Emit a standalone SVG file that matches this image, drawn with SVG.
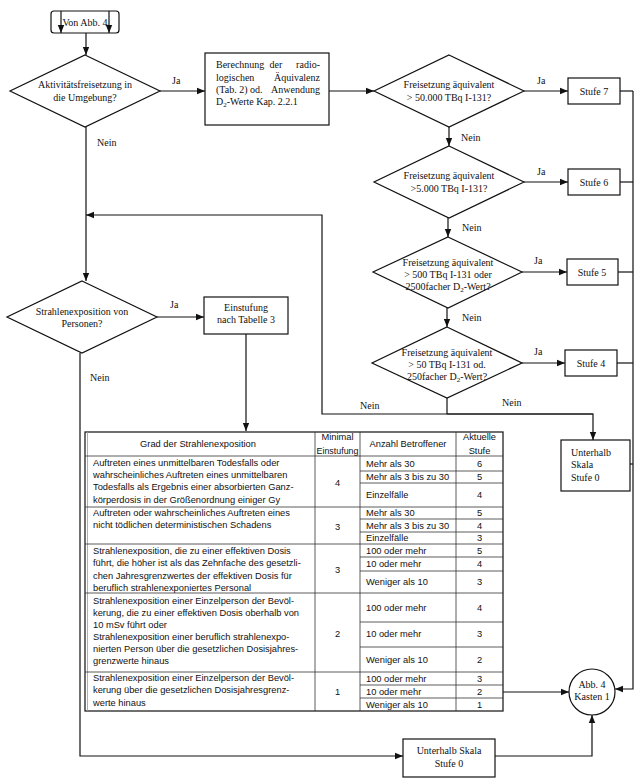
<svg xmlns="http://www.w3.org/2000/svg" width="636" height="782" viewBox="0 0 636 782">
<style>
.s{fill:#fff;stroke:#111;stroke-width:1.2}
.c{fill:none;stroke:#111;stroke-width:1.2}
.t{font-family:"Liberation Serif","Times New Roman",serif;font-size:10px;fill:#111}
.m{text-anchor:middle}
.tb{font-family:"Liberation Sans",Arial,sans-serif;font-size:9.3px;fill:#111}
.gl{stroke:#333;stroke-width:0.8;fill:none}
.sub{font-size:7px}
</style>
<defs>
<marker id="a" markerUnits="userSpaceOnUse" markerWidth="8" markerHeight="8" viewBox="0 0 8 8" refX="8" refY="4" orient="auto">
<path d="M0,0.8 L8,4 L0,7.2 Z" fill="#111"/>
</marker>
</defs>
<rect width="636" height="782" fill="#fff"/>

<g id="connectors">
<line class="c" x1="61" y1="11" x2="61" y2="33" marker-end="url(#a)"/>
<line class="c" x1="109" y1="11" x2="109" y2="33" marker-end="url(#a)"/>
<line class="c" x1="86" y1="33" x2="86" y2="55" marker-end="url(#a)"/>
<line class="c" x1="160" y1="91" x2="205" y2="91" marker-end="url(#a)"/>
<line class="c" x1="329" y1="91" x2="374" y2="91" marker-end="url(#a)"/>
<line class="c" x1="524" y1="91" x2="568" y2="91" marker-end="url(#a)"/>
<line class="c" x1="449" y1="127" x2="449" y2="146" marker-end="url(#a)"/>
<line class="c" x1="524" y1="182" x2="568" y2="182" marker-end="url(#a)"/>
<line class="c" x1="448" y1="218" x2="448" y2="237" marker-end="url(#a)"/>
<line class="c" x1="522" y1="272" x2="567" y2="272" marker-end="url(#a)"/>
<line class="c" x1="447" y1="308" x2="447" y2="327" marker-end="url(#a)"/>
<line class="c" x1="522" y1="363" x2="565" y2="363" marker-end="url(#a)"/>
<line class="c" x1="447" y1="398" x2="447" y2="414"/>
<polyline class="c" points="593,414 322,414 322,215 86,215" marker-end="url(#a)"/>
<polyline class="c" points="447,414 593,414 593,440" marker-end="url(#a)"/>
<line class="c" x1="620" y1="91" x2="633" y2="91"/>
<line class="c" x1="620" y1="182" x2="633" y2="182"/>
<line class="c" x1="618" y1="272" x2="633" y2="272"/>
<line class="c" x1="617" y1="363" x2="633" y2="363"/>
<line class="c" x1="630" y1="464" x2="633" y2="464"/>
<polyline class="c" points="633,91 633,689 615,689" marker-end="url(#a)"/>
<line class="c" x1="86" y1="127" x2="86" y2="281" marker-end="url(#a)"/>
<line class="c" x1="157" y1="317" x2="204" y2="317" marker-end="url(#a)"/>
<line class="c" x1="246" y1="334" x2="246" y2="431" marker-end="url(#a)"/>
<polyline class="c" points="80,353 80,756 403,756" marker-end="url(#a)"/>
<polyline class="c" points="495,756 592,756 592,715" marker-end="url(#a)"/>
<line class="c" x1="503" y1="692" x2="569" y2="692" marker-end="url(#a)"/>
<text class="t" x="172" y="84">Ja</text>
<text class="t" x="97" y="146">Nein</text>
<text class="t" x="537" y="84">Ja</text>
<text class="t" x="461" y="141">Nein</text>
<text class="t" x="537" y="175">Ja</text>
<text class="t" x="462" y="231">Nein</text>
<text class="t" x="534" y="264">Ja</text>
<text class="t" x="462" y="321">Nein</text>
<text class="t" x="534" y="355">Ja</text>
<text class="t" x="360" y="409">Nein</text>
<text class="t" x="502" y="406">Nein</text>
<text class="t" x="170" y="308">Ja</text>
<text class="t" x="90" y="381">Nein</text>
</g>

<g id="start">
<rect class="s" x="51" y="11" width="68" height="22" rx="3" style="fill:none"/>
<text class="t m" x="85" y="26">Von Abb. 4</text>
</g>

<g id="q-freisetzung">
<polygon class="s" points="85,55 160,91 85,127 10,91"/>
<text class="t m" x="85" y="88">Aktivitätsfreisetzung in</text>
<text class="t m" x="85" y="101">die Umgebung?</text>
</g>

<g id="berechnung">
<rect class="s" x="205" y="53" width="124" height="72"/>
<text class="t" x="216" y="68">Berechnung</text>
<text class="t m" x="276" y="68">der</text>
<text class="t" x="320" y="68" text-anchor="end">radio-</text>
<text class="t" x="216" y="81">logischen</text>
<text class="t" x="320" y="81" text-anchor="end">Äquivalenz</text>
<text class="t" x="216" y="93">(Tab. 2) od.</text>
<text class="t" x="320" y="93" text-anchor="end">Anwendung</text>
<text class="t" x="216" y="105">D<tspan class="sub" dy="2">2</tspan><tspan dy="-2">-Werte Kap. 2.2.1</tspan></text>
</g>

<g id="q-50000">
<polygon class="s" points="449,55 524,91 449,127 374,91"/>
<text class="t m" x="449" y="88">Freisetzung äquivalent</text>
<text class="t m" x="449" y="101">&gt; 50.000 TBq I-131?</text>
</g>

<g id="stufe7">
<rect class="s" x="568" y="78" width="52" height="26"/>
<text class="t m" x="594" y="95">Stufe 7</text>
</g>

<g id="q-5000">
<polygon class="s" points="449,146 524,182 449,218 374,182"/>
<text class="t m" x="449" y="179">Freisetzung äquivalent</text>
<text class="t m" x="449" y="192">&gt;5.000 TBq I-131?</text>
</g>

<g id="stufe6">
<rect class="s" x="568" y="169" width="52" height="26"/>
<text class="t m" x="594" y="186">Stufe 6</text>
</g>

<g id="q-500">
<polygon class="s" points="448,237 522,272 448,308 373,272"/>
<text class="t m" x="448" y="266">Freisetzung äquivalent</text>
<text class="t m" x="448" y="278">&gt; 500 TBq I-131 oder</text>
<text class="t m" x="448" y="290">2500facher D<tspan class="sub" dy="2">2</tspan><tspan dy="-2">-Wert?</tspan></text>
</g>

<g id="stufe5">
<rect class="s" x="567" y="259" width="51" height="26"/>
<text class="t m" x="592" y="276">Stufe 5</text>
</g>

<g id="q-50">
<polygon class="s" points="447,327 522,363 447,398 372,363"/>
<text class="t m" x="447" y="356">Freisetzung äquivalent</text>
<text class="t m" x="447" y="368">&gt; 50 TBq I-131 od.</text>
<text class="t m" x="447" y="380">250facher D<tspan class="sub" dy="2">2</tspan><tspan dy="-2">-Wert?</tspan></text>
</g>

<g id="stufe4">
<rect class="s" x="565" y="350" width="52" height="26"/>
<text class="t m" x="591" y="367">Stufe 4</text>
</g>

<g id="unterhalb-rechts">
<rect class="s" x="561" y="440" width="69" height="51"/>
<text class="t" x="571" y="456">Unterhalb</text>
<text class="t" x="571" y="468">Skala</text>
<text class="t" x="571" y="481">Stufe 0</text>
</g>

<g id="q-strahlen">
<polygon class="s" points="82,281 157,317 82,353 7,317"/>
<text class="t m" x="82" y="315">Strahlenexposition von</text>
<text class="t m" x="82" y="327">Personen?</text>
</g>

<g id="einstufung">
<rect class="s" x="204" y="297" width="84" height="37"/>
<text class="t m" x="246" y="311">Einstufung</text>
<text class="t m" x="246" y="323">nach Tabelle 3</text>
</g>

<g id="tabelle">
<rect x="85" y="432" width="418" height="279" fill="#fff" stroke="#222" stroke-width="1.3"/>
<line x1="87.5" y1="432" x2="87.5" y2="711" stroke="#999" stroke-width="0.8"/>
<line class="gl" x1="315" y1="432" x2="315" y2="711"/>
<line class="gl" x1="360" y1="432" x2="360" y2="711"/>
<line class="gl" x1="456" y1="432" x2="456" y2="711"/>
<line class="gl" x1="85" y1="456" x2="503" y2="456"/>
<line class="gl" x1="85" y1="507" x2="503" y2="507"/>
<line class="gl" x1="85" y1="544" x2="503" y2="544"/>
<line class="gl" x1="85" y1="593" x2="503" y2="593"/>
<line class="gl" x1="85" y1="672" x2="503" y2="672"/>
<line class="gl" x1="360" y1="471" x2="503" y2="471"/>
<line class="gl" x1="360" y1="483" x2="503" y2="483"/>
<line class="gl" x1="360" y1="519" x2="503" y2="519"/>
<line class="gl" x1="360" y1="532" x2="503" y2="532"/>
<line class="gl" x1="360" y1="557" x2="503" y2="557"/>
<line class="gl" x1="360" y1="571" x2="503" y2="571"/>
<line class="gl" x1="360" y1="622" x2="503" y2="622"/>
<line class="gl" x1="360" y1="647" x2="503" y2="647"/>
<line class="gl" x1="360" y1="685" x2="503" y2="685"/>
<line class="gl" x1="360" y1="698" x2="503" y2="698"/>

<text class="tb m" x="198" y="447">Grad der Strahlenexposition</text>
<text class="tb m" x="337.5" y="440">Minimal</text>
<text class="tb m" x="337.5" y="454" textLength="42" lengthAdjust="spacingAndGlyphs">Einstufung</text>
<text class="tb m" x="408" y="447">Anzahl Betroffener</text>
<text class="tb m" x="479.5" y="440">Aktuelle</text>
<text class="tb m" x="479.5" y="454">Stufe</text>

<text class="tb" x="93" y="466">Auftreten eines unmittelbaren Todesfalls oder</text>
<text class="tb" x="93" y="478">wahrscheinliches Auftreten eines unmittelbaren</text>
<text class="tb" x="93" y="490">Todesfalls als Ergebnis einer absorbierten Ganz-</text>
<text class="tb" x="93" y="503">körperdosis in der Größenordnung einiger Gy</text>
<text class="tb m" x="337.5" y="486">4</text>
<text class="tb" x="366" y="467">Mehr als 30</text>
<text class="tb" x="366" y="480">Mehr als 3 bis zu 30</text>
<text class="tb" x="366" y="498">Einzelfälle</text>
<text class="tb m" x="479.5" y="467">6</text>
<text class="tb m" x="479.5" y="480">5</text>
<text class="tb m" x="479.5" y="498">4</text>

<text class="tb" x="93" y="516">Auftreten oder wahrscheinliches Auftreten eines</text>
<text class="tb" x="93" y="528">nicht tödlichen deterministischen Schadens</text>
<text class="tb m" x="337.5" y="530">3</text>
<text class="tb" x="366" y="516">Mehr als 30</text>
<text class="tb" x="366" y="529">Mehr als 3 bis zu 30</text>
<text class="tb" x="366" y="541">Einzelfälle</text>
<text class="tb m" x="479.5" y="516">5</text>
<text class="tb m" x="479.5" y="529">4</text>
<text class="tb m" x="479.5" y="541">3</text>

<text class="tb" x="93" y="554">Strahlenexposition, die zu einer effektiven Dosis</text>
<text class="tb" x="93" y="566">führt, die höher ist als das Zehnfache des gesetzli-</text>
<text class="tb" x="93" y="579">chen Jahresgrenzwertes der effektiven Dosis für</text>
<text class="tb" x="93" y="591">beruflich strahlenexponiertes Personal</text>
<text class="tb m" x="337.5" y="573">3</text>
<text class="tb" x="366" y="554">100 oder mehr</text>
<text class="tb" x="366" y="567">10 oder mehr</text>
<text class="tb" x="366" y="585">Weniger als 10</text>
<text class="tb m" x="479.5" y="554">5</text>
<text class="tb m" x="479.5" y="567">4</text>
<text class="tb m" x="479.5" y="585">3</text>

<text class="tb" x="93" y="604">Strahlenexposition einer Einzelperson der Bevöl-</text>
<text class="tb" x="93" y="616">kerung, die zu einer effektiven Dosis oberhalb von</text>
<text class="tb" x="93" y="628">10 mSv führt oder</text>
<text class="tb" x="93" y="640">Strahlenexposition einer beruflich strahlenexpo-</text>
<text class="tb" x="93" y="652">nierten Person über die gesetzlichen Dosisjahres-</text>
<text class="tb" x="93" y="664">grenzwerte hinaus</text>
<text class="tb m" x="337.5" y="637">2</text>
<text class="tb" x="366" y="611">100 oder mehr</text>
<text class="tb" x="366" y="637">10 oder mehr</text>
<text class="tb" x="366" y="663">Weniger als 10</text>
<text class="tb m" x="479.5" y="611">4</text>
<text class="tb m" x="479.5" y="637">3</text>
<text class="tb m" x="479.5" y="663">2</text>

<text class="tb" x="93" y="681">Strahlenexposition einer Einzelperson der Bevöl-</text>
<text class="tb" x="93" y="693">kerung über die gesetzlichen Dosisjahresgrenz-</text>
<text class="tb" x="93" y="706">werte hinaus</text>
<text class="tb m" x="337.5" y="695">1</text>
<text class="tb" x="366" y="682">100 oder mehr</text>
<text class="tb" x="366" y="695">10 oder mehr</text>
<text class="tb" x="366" y="708">Weniger als 10</text>
<text class="tb m" x="479.5" y="682">3</text>
<text class="tb m" x="479.5" y="695">2</text>
<text class="tb m" x="479.5" y="708">1</text>
</g>

<g id="abb4-kasten1">
<circle class="s" cx="592" cy="692" r="23"/>
<text class="t m" x="592" y="688">Abb. 4</text>
<text class="t m" x="592" y="700">Kasten 1</text>
</g>

<g id="unterhalb-unten">
<rect class="s" x="403" y="739" width="92" height="38"/>
<text class="t m" x="449" y="754">Unterhalb Skala</text>
<text class="t m" x="449" y="767">Stufe 0</text>
</g>
</svg>
